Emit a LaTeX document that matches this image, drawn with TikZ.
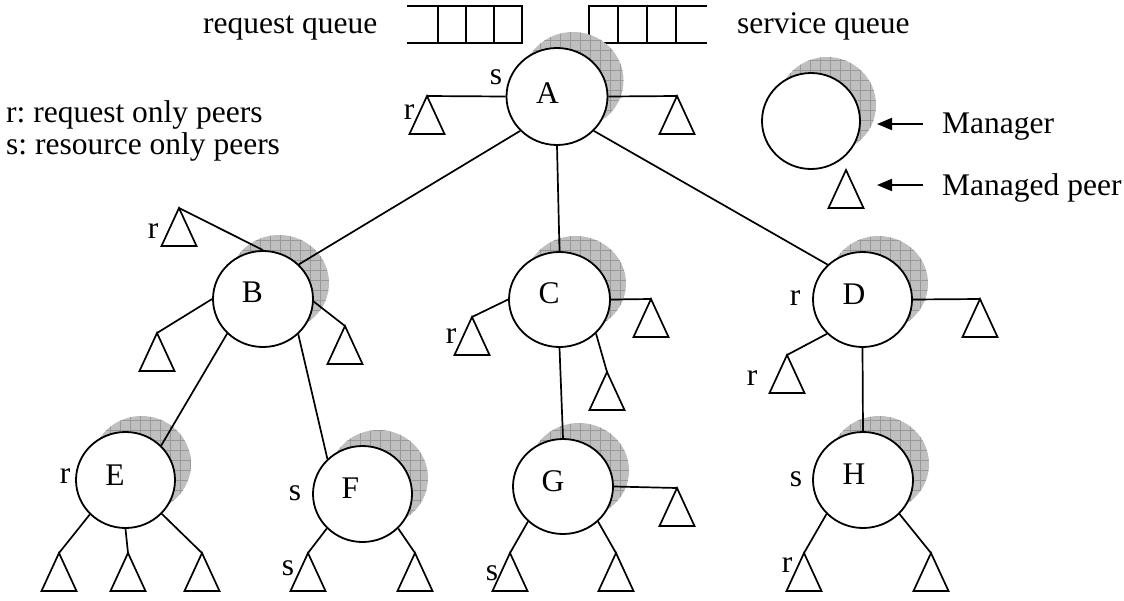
\documentclass[tikz,border=0pt]{standalone}
\usepackage{fontspec}
\setmainfont{Liberation Serif}
\usetikzlibrary{shapes.geometric,arrows.meta}
\frenchspacing

\tikzset{
  mgr/.style={ellipse, draw, line width=1.8pt, fill=white, inner sep=0pt},
  link/.style={line width=1.7pt},
  peertri/.style={line width=1.7pt, line join=miter},
  lbl/.style={inner sep=0pt, font=\fontsize{31.5}{36}\selectfont},
  queue/.style={line width=2.6pt, line join=miter},
  ptr/.style={line width=1.8pt, -{Triangle[length=15pt,width=12pt]}},
  shadowfill/.style={fill=black!25},
  shadowgrid/.style={draw=black!40, line width=0.6pt},
}

% manager: hatched shadow offset up-right, white ellipse on top
% #1 name, #2 x, #3 y, #4 x radius, #5 y radius
\newcommand\mgrnode[5]{%
  \begin{scope}
    \clip (#2+16,#3-16) ellipse [x radius=#4, y radius=#5];
    \fill[shadowfill] (#2-50,#3+80) rectangle (#2+80,#3-80);
    \draw[shadowgrid, step=10pt] (#2-50,#3+80) grid (#2+80,#3-80);
  \end{scope}
  \node[mgr, minimum width=#4*2pt, minimum height=#5*2pt] (#1) at (#2,#3) {};
}

% managed peer: triangle hanging from its apex
\newcommand\peernode[3]{%
  \coordinate (#1) at (#2,#3);
  \draw[peertri] (#1) -- ++(-17.5,38) -- ++(35,0) -- cycle;
}

\begin{document}
\begin{tikzpicture}[x=1pt,y=-1pt]
\useasboundingbox (0,0) rectangle (1124,600);

% queues
\draw[queue] (407,6) -- (522,6) -- (522,43) -- (407,43);
\foreach \qx in {438,466,494} \draw[queue] (\qx,6) -- (\qx,43);
\draw[queue] (707,6) -- (589,6) -- (589,43) -- (707,43);
\foreach \qx in {618,647,676} \draw[queue] (\qx,6) -- (\qx,43);

\node[lbl, anchor=base west] (rq) at (203,33) {request queue};
\node[lbl, anchor=base west] (sq) at (737,33) {service queue};
\node[lbl, anchor=base west] (kr) at (6,122) {r: request only peers};
\node[lbl, anchor=base west] (ks) at (6,154) {s: resource only peers};

% managers
\mgrnode{A}{557}{96.5}{50.5}{48.5}
\mgrnode{B}{263}{299}{50}{48}
\mgrnode{C}{559.5}{299.5}{50.5}{47.5}
\mgrnode{D}{862.5}{299.5}{49.5}{47.5}
\mgrnode{E}{125.5}{480}{49.5}{48}
\mgrnode{F}{362.5}{494}{49.5}{48}
\mgrnode{G}{563}{486.5}{50}{47.5}
\mgrnode{H}{863}{480}{50}{48}
\mgrnode{L}{811}{121}{49}{48}

% manager letters
\node[lbl] (lA) at (547.5,93.5) {A};
\node[lbl] (lB) at (252.5,292.5) {B};
\node[lbl] (lC) at (549,293) {C};
\node[lbl] (lD) at (854,294.5) {D};
\node[lbl] (lE) at (115,475.5) {E};
\node[lbl] (lF) at (350.5,488) {F};
\node[lbl] (lG) at (553,481) {G};
\node[lbl] (lH) at (854,474.5) {H};

% managed peers
\peernode{pA1}{427}{96}
\peernode{pA2}{677}{96}
\peernode{pB1}{179}{208}
\peernode{pB2}{157}{333}
\peernode{pB3}{345}{326}
\peernode{pC1}{472}{317}
\peernode{pC2}{651}{299}
\peernode{pC3}{607}{372}
\peernode{pD1}{980}{299}
\peernode{pD2}{787}{355}
\peernode{pE1}{59}{553}
\peernode{pE2}{128}{553}
\peernode{pE3}{202}{553}
\peernode{pF1}{308}{553}
\peernode{pF2}{415}{553}
\peernode{pG1}{677}{488}
\peernode{pG2}{510}{553}
\peernode{pG3}{616}{553}
\peernode{pH1}{804}{553}
\peernode{pH2}{931}{553}
\peernode{pL}{846}{170}

% peer role labels
\node[lbl] (sA) at (496,77) {s};
\node[lbl] (rA) at (409,112) {r};
\node[lbl] (rB) at (153,231) {r};
\node[lbl] (rC) at (451,336) {r};
\node[lbl] (rD) at (795,298) {r};
\node[lbl] (rD2) at (752,378) {r};
\node[lbl] (rE) at (65,476) {r};
\node[lbl] (sF) at (295,493) {s};
\node[lbl] (sF2) at (288,568) {s};
\node[lbl] (sG) at (492,573) {s};
\node[lbl] (sH) at (796,479) {s};
\node[lbl] (rH) at (787,565) {r};

% tree links between managers
\draw[link] (A.223) -- (B.44);
\draw[link] (A.south) -- (C.north);
\draw[link] (A.317) -- (D.135);
\draw[link] (B.224) -- (E.44);
\draw[link] (B.315) -- (F.135);
\draw[link] (C.south) -- (G.north);
\draw[link] (D.south) -- (H.north);

% links to managed peers
\draw[link] (A.west) -- (pA1);
\draw[link] (A.east) -- (pA2);
\draw[link] (B.north) -- (pB1);
\draw[link] (B.west) -- (pB2);
\draw[link] (B.357) -- (pB3);
\draw[link] (C.west) -- (pC1);
\draw[link] (C.east) -- (pC2);
\draw[link] (C.317) -- (pC3);
\draw[link] (D.east) -- (pD1);
\draw[link] (D.224) -- (pD2);
\draw[link] (E.224) -- (pE1);
\draw[link] (E.south) -- (pE2);
\draw[link] (E.317) -- (pE3);
\draw[link] (F.224) -- (pF1);
\draw[link] (F.316) -- (pF2);
\draw[link] (G.east) -- (pG1);
\draw[link] (G.225) -- (pG2);
\draw[link] (G.315) -- (pG3);
\draw[link] (H.223) -- (pH1);
\draw[link] (H.317) -- (pH2);

% legend
\coordinate (mt) at (923,124);
\coordinate (mh) at (877,124);
\coordinate (pt) at (923,185);
\coordinate (ph) at (877,185);
\draw[ptr] (mt) -- (mh);
\draw[ptr] (pt) -- (ph);
\node[lbl, anchor=base west] (km) at (942,133) {Manager};
\node[lbl, anchor=base west] (kp) at (942,195) {Managed peer};
\end{tikzpicture}
\end{document}
